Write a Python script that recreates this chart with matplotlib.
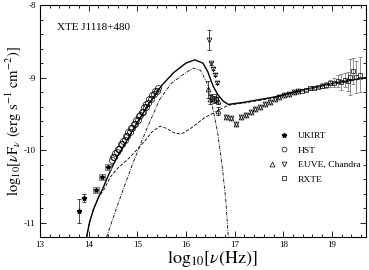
import numpy as np
import matplotlib
matplotlib.use('Agg')
import matplotlib.pyplot as plt
from matplotlib.lines import Line2D
from matplotlib.legend_handler import HandlerTuple

# --- DATA (log10 nu [Hz], log10 nuFnu [erg s-1 cm-2]) ---
ukirt_nu = [13.80, 13.90]
ukirt_f = [-10.84, -10.66]
ukirt_err = [0.17, 0.05]
jhk_nu = [14.15, 14.27, 14.40]
jhk_f = [-10.55, -10.37, -10.24]

hst_nu = [14.48, 14.50, 14.53, 14.55, 14.58, 14.61, 14.63, 14.66, 14.69, 14.71,
          14.74, 14.77, 14.79, 14.82, 14.85, 14.87, 14.90, 14.93, 14.95, 14.98,
          15.01, 15.03, 15.06, 15.09, 15.11, 15.14, 15.17, 15.19, 15.22, 15.25,
          15.28, 15.31, 15.34, 15.37, 15.40, 15.42]
hst_f = [-10.14, -10.09, -10.09, -10.04, -10.03, -9.98, -9.98, -9.92, -9.92, -9.87,
         -9.86, -9.81, -9.81, -9.75, -9.75, -9.70, -9.69, -9.64, -9.64, -9.58,
         -9.58, -9.53, -9.52, -9.47, -9.47, -9.41, -9.41, -9.36, -9.35, -9.30,
         -9.29, -9.24, -9.23, -9.19, -9.18, -9.14]

euve_dn_nu = [16.47, 16.52, 16.56, 16.59, 16.63]
euve_dn_f = [-8.48, -8.80, -8.88, -8.96, -9.07]
euve_dn_err = [0.14, 0.02, 0.02, 0.02, 0.02]
euve_up_nu = [16.46, 16.49, 16.53, 16.57, 16.61, 16.65, 16.66]
euve_up_f = [-9.16, -9.30, -9.27, -9.30, -9.28, -9.32, -9.46]
euve_up_err = [0.12, 0.06, 0.05, 0.05, 0.05, 0.05, 0.06]

chandra_nu = [16.83, 16.93, 17.03, 17.14, 17.24, 17.33, 17.42, 17.52, 17.62, 17.72,
              17.82, 17.92, 18.02, 18.12, 18.22, 18.30]
chandra_f = [-9.55, -9.56, -9.64, -9.55, -9.52, -9.47, -9.43, -9.40, -9.37, -9.34,
             -9.30, -9.27, -9.24, -9.22, -9.20, -9.19]

rxte_nu = [18.38, 18.46, 18.54, 18.63, 18.71, 18.80, 18.88, 18.96, 19.04, 19.12,
           19.19, 19.27, 19.33, 19.38, 19.43, 19.50, 19.57]
rxte_f = [-9.18, -9.17, -9.15, -9.14, -9.13, -9.11, -9.10, -9.08, -9.07, -9.05,
          -9.06, -9.03, -9.05, -8.99, -8.91, -8.99, -8.96]
rxte_err = [0.01, 0.01, 0.01, 0.02, 0.02, 0.03, 0.04, 0.05, 0.06, 0.08,
            0.11, 0.10, 0.13, 0.25, 0.18, 0.22, 0.24]

# model curves
total_nu = [13.96, 14.02, 14.10, 14.20, 14.30, 14.40, 14.50, 14.60, 14.75, 15.00,
            15.25, 15.50, 15.75, 16.00, 16.18, 16.35, 16.45, 16.56, 16.66, 16.76,
            16.87, 17.20, 17.80, 18.40, 19.00, 19.70]
total_f = [-11.20, -11.00, -10.82, -10.66, -10.52, -10.36, -10.21, -10.08, -9.91, -9.62,
           -9.35, -9.11, -8.93, -8.80, -8.755, -8.80, -8.92, -9.12, -9.24, -9.32,
           -9.37, -9.34, -9.27, -9.17, -9.08, -9.00]

disk_nu = [14.37, 14.60, 14.90, 15.20, 15.46, 15.70, 15.98, 16.15, 16.30, 16.45,
           16.56, 16.65, 16.75, 16.82, 16.87]
disk_f = [-11.20, -10.75, -10.20, -9.70, -9.30, -9.08, -8.94, -8.87, -8.90, -9.10,
          -9.45, -9.75, -10.25, -10.70, -11.20]

comp_nu = [13.96, 14.02, 14.10, 14.20, 14.33, 14.45, 14.60, 14.85, 15.15, 15.30,
           15.47, 15.60, 15.75, 15.90, 16.08, 16.39, 16.87, 17.20, 17.80, 18.40,
           19.00, 19.70]
comp_f = [-11.20, -11.00, -10.82, -10.66, -10.53, -10.37, -10.25, -10.10, -9.88, -9.75,
          -9.67, -9.70, -9.76, -9.78, -9.71, -9.55, -9.38, -9.35, -9.28, -9.18,
          -9.09, -9.01]

# --- STYLE ---
plt.rcParams['font.family'] = 'serif'
plt.rcParams['font.serif'] = ['Liberation Serif', 'DejaVu Serif']
plt.rcParams['mathtext.fontset'] = 'stix'

fig = plt.figure(figsize=(3.69, 2.70), dpi=100)
ax = fig.add_axes([0.108, 0.122, 0.884, 0.859])

# model components
ax.plot(comp_nu, comp_f, color='black', lw=0.6, linestyle=(0, (4, 2)))
ax.plot(disk_nu, disk_f, color='black', lw=0.6, linestyle=(0, (4, 1.5, 1, 1.5)))
ax.plot(total_nu, total_f, color='black', lw=1.0)

ebkw = dict(ecolor='black', elinewidth=0.5, capsize=1.5, capthick=0.5, linestyle='none')

# UKIRT
ax.errorbar(ukirt_nu, ukirt_f, yerr=ukirt_err, fmt='*', ms=3.5, color='black', **ebkw)
ax.plot(jhk_nu, jhk_f, 's', ms=4.5, mfc='#cccccc', mec='#555555', mew=0.5, linestyle='none')
ax.plot(jhk_nu, jhk_f, '*', ms=3, color='black', linestyle='none')

# HST
ax.plot(hst_nu, hst_f, 'o', ms=4.3, mfc='none', mec='black', mew=0.5, linestyle='none')

# EUVE / Chandra
ax.errorbar(euve_dn_nu, euve_dn_f, yerr=euve_dn_err, fmt='v', ms=3.5, mfc='none', mec='black', mew=0.5, **ebkw)
ax.errorbar(euve_up_nu, euve_up_f, yerr=euve_up_err, fmt='^', ms=3.5, mfc='none', mec='black', mew=0.5, **ebkw)
ax.plot(chandra_nu, chandra_f, '^', ms=3.5, mfc='none', mec='black', mew=0.5, linestyle='none')
ax.plot(chandra_nu, chandra_f, 'v', ms=3.5, mfc='none', mec='black', mew=0.5, linestyle='none')

# RXTE
ax.errorbar(rxte_nu, rxte_f, yerr=rxte_err, fmt='s', ms=3.5, mfc='none', mec='black', mew=0.5,
            ecolor='#666666', elinewidth=0.5, capsize=1.5, capthick=0.5, linestyle='none')

# --- AXES ---
ax.set_xlim(13, 19.7)
ax.set_ylim(-11.2, -8)
ax.set_xticks(range(13, 20))
ax.set_xticks(np.arange(13, 19.71, 0.2), minor=True)
ax.set_yticks([-11, -10, -9, -8])
ax.set_yticks(np.arange(-11.2, -7.99, 0.2), minor=True)
ax.set_yticklabels(['-11', '-10', '-9', '-8'])
ax.tick_params(which='both', direction='in', top=True, right=True, width=0.6, labelsize=6.5, pad=3)
ax.tick_params(which='major', length=4)
ax.tick_params(which='minor', length=2)
for s in ax.spines.values():
    s.set_linewidth(0.8)

ax.set_xlabel(r'$\mathrm{log}_{10}[\nu(\mathrm{Hz})]$', fontsize=13)
ax.set_ylabel(r'$\mathrm{log}_{10}[\nu\mathrm{F}_{\nu}\ (\mathrm{erg\ s^{-1}\ cm^{-2}})]$', fontsize=10.5)
ax.xaxis.set_label_coords(0.528, -0.05)
ax.yaxis.set_label_coords(-0.05, 0.5)

ax.text(0.052, 0.905, 'XTE J1118+480', transform=ax.transAxes, fontsize=8, va='center')

# legend
blank = Line2D([], [], linestyle='none', marker='')
h_uk = Line2D([], [], linestyle='none', marker='*', ms=3.5, color='black')
h_hst = Line2D([], [], linestyle='none', marker='o', ms=3.5, mfc='none', mec='black', mew=0.5)
h_up = Line2D([], [], linestyle='none', marker='^', ms=3.5, mfc='none', mec='black', mew=0.5)
h_dn = Line2D([], [], linestyle='none', marker='v', ms=3.5, mfc='none', mec='black', mew=0.5)
h_rx = Line2D([], [], linestyle='none', marker='s', ms=3.5, mfc='none', mec='black', mew=0.5)
ax.legend([(blank, h_uk), (blank, h_hst), (h_up, h_dn), (blank, h_rx)],
          ['UKIRT', 'HST', 'EUVE, Chandra', 'RXTE'],
          handler_map={tuple: HandlerTuple(ndivide=None, pad=0)},
          loc='upper left', bbox_to_anchor=(0.693, 0.455), frameon=False,
          fontsize=6.8, handlelength=2.5, handletextpad=0.9, labelspacing=0.62,
          borderpad=0, borderaxespad=0)

fig.savefig('out.png', dpi=100)
